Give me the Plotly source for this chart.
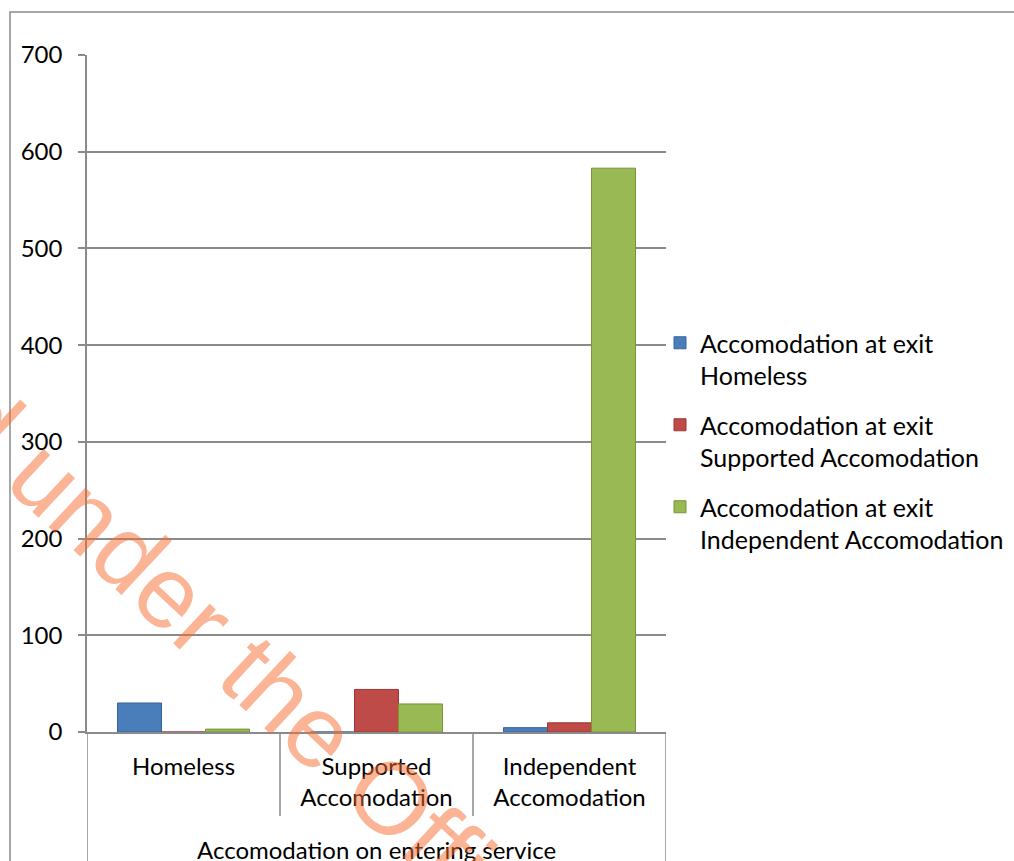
import plotly.graph_objects as go

categories = ["Homeless", "Supported<br>Accomodation", "Independent<br>Accomodation"]
series_names = [
    "Accomodation at exit<br>Homeless",
    "Accomodation at exit<br>Supported Accomodation",
    "Accomodation at exit<br>Independent Accomodation",
]
exit_homeless = [30, 0, 4.5]
exit_supported = [0, 44, 9.5]
exit_independent = [3, 29, 583]
series_values = [exit_homeless, exit_supported, exit_independent]
y_ticks = [0, 100, 200, 300, 400, 500, 600, 700]
x_title = "Accomodation on entering service"
watermark = "Released under the Official Information Act"

fill_colors = ["#4A7EBB", "#BE4B48", "#98B954"]
line_colors = ["#35649C", "#9C3734", "#789535"]

FONT = "Lato"
fig = go.Figure()
for i, (name, vals) in enumerate(zip(series_names, series_values)):
    fig.add_trace(go.Bar(
        x=categories, y=vals, name=name, legendgroup=f"g{i}",
        marker=dict(color=fill_colors[i], line=dict(color=line_colors[i], width=1)),
    ))

grid = "#8A8A8A"
L, R, T, B = 87, 348, 55, 129
W, H = 1014, 861
pw, ph = W - L - R, H - T - B

def px_x(px):
    return (px - L) / pw

def px_y(py):
    return 1 - (py - T) / ph

shapes = []
# category dividers below the axis
for xv in [0.5, 1.5]:
    shapes.append(dict(type="line", xref="x", yref="paper", x0=xv, x1=xv,
                       y0=0, y1=px_y(816), line=dict(color=grid, width=1.5)))
for xv in [-0.5, 2.5]:
    shapes.append(dict(type="line", xref="x", yref="paper", x0=xv, x1=xv,
                       y0=0, y1=px_y(900), line=dict(color=grid, width=1.5)))
# outer chart border
shapes.append(dict(type="rect", xref="paper", yref="paper",
                   x0=px_x(10), x1=px_x(1100), y0=px_y(12), y1=px_y(1000),
                   line=dict(color=grid, width=1.5), fillcolor="rgba(0,0,0,0)", layer="below"))

annotations = [
    dict(text=x_title, xref="paper", yref="paper", x=0.5, y=px_y(849),
         showarrow=False, font=dict(family=FONT, size=24, color="#000"),
         xanchor="center", yanchor="middle"),
    dict(text=watermark, xref="paper", yref="paper", x=px_x(398), y=px_y(805),
         showarrow=False, textangle=43,
         font=dict(family="Liberation Sans", size=102, color="rgba(247,107,45,0.5)"),
         xanchor="center", yanchor="middle"),
]

fig.update_layout(
    width=W, height=H,
    margin=dict(l=L, r=R, t=T, b=B, autoexpand=False),
    paper_bgcolor="white", plot_bgcolor="white",
    barmode="group", bargap=0.316, bargroupgap=0,
    font=dict(family=FONT, size=24, color="#000"),
    shapes=shapes, annotations=annotations,
    legend=dict(x=px_x(660), y=px_y(320), xanchor="left", yanchor="top",
                font=dict(family=FONT, size=25, color="#000"),
                valign="top", tracegroupgap=14, itemwidth=30,
                bgcolor="rgba(0,0,0,0)"),
    showlegend=True,
)
fig.update_xaxes(
    showgrid=False, showline=True, linecolor=grid, linewidth=1.5,
    ticks="", tickfont=dict(family=FONT, size=24, color="#000"),
    ticklabelstandoff=12, range=[-0.5, 2.5], zeroline=False,
)
fig.update_yaxes(
    range=[0, 700], tickvals=y_ticks, showgrid=True, gridcolor=grid, gridwidth=1.5,
    showline=True, linecolor=grid, linewidth=1.5, ticks="outside", ticklen=7,
    tickcolor=grid, tickwidth=1.5, tickfont=dict(family=FONT, size=24, color="#000"),
    ticklabelstandoff=11, zeroline=False,
)
fig.write_html("out.html")
